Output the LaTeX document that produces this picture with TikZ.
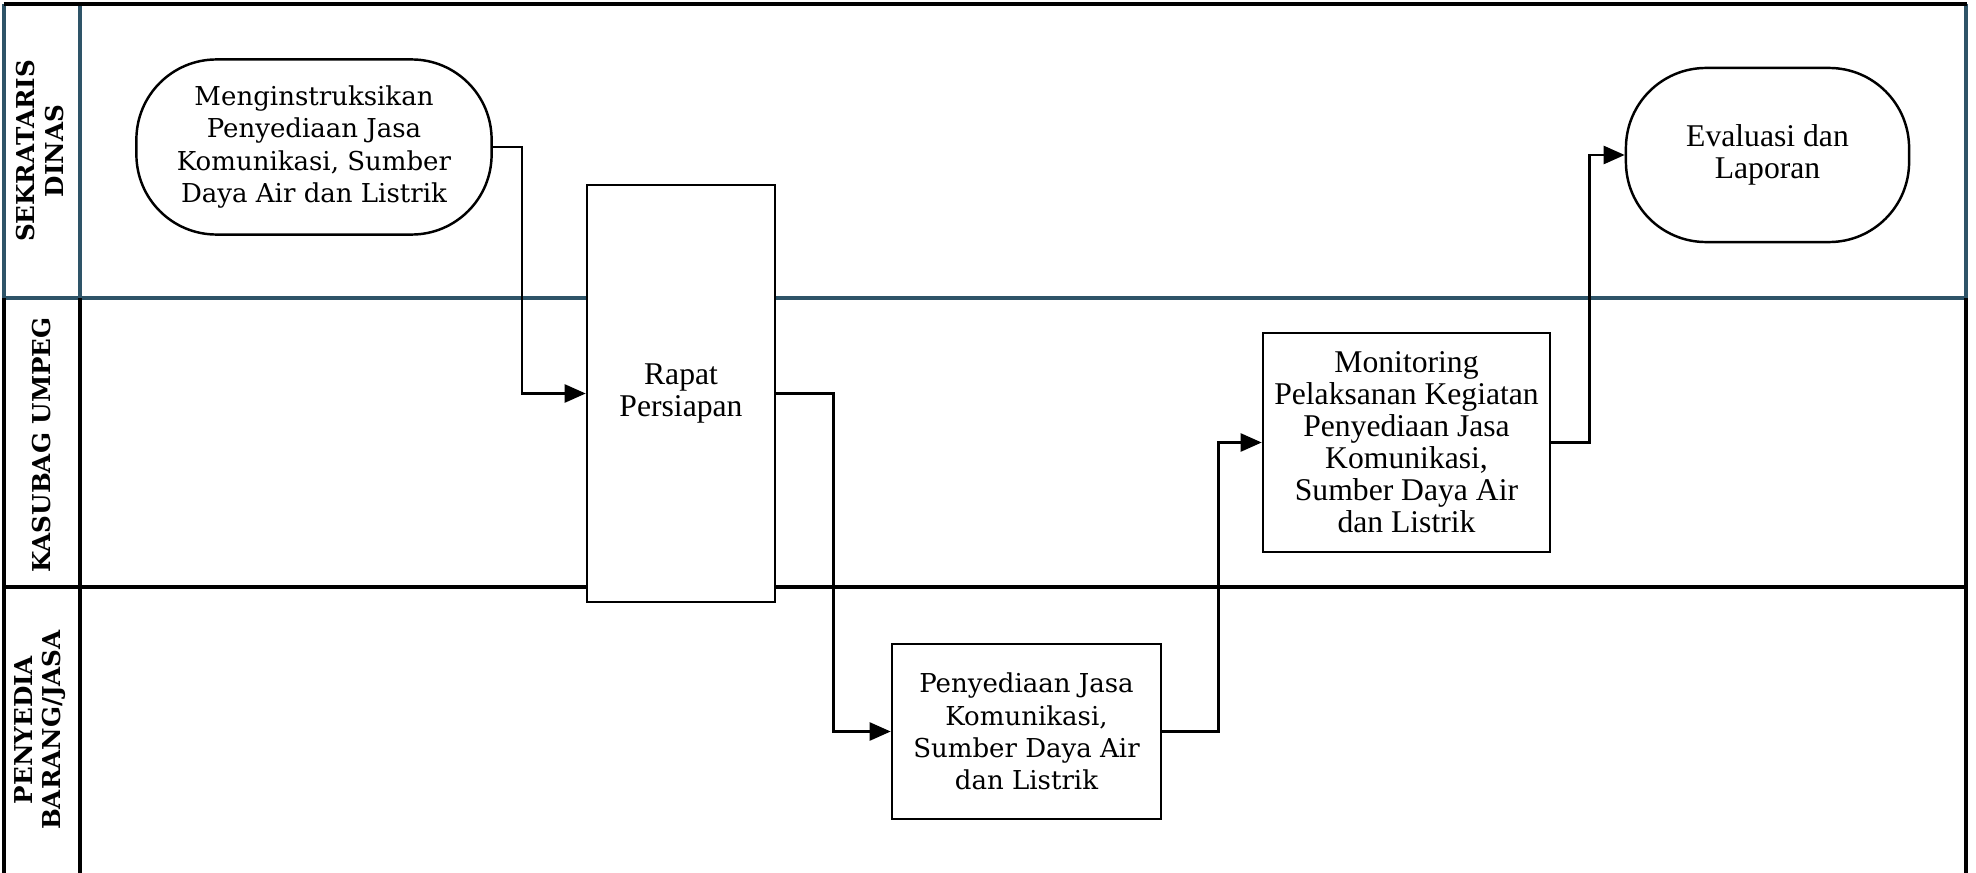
\documentclass[tikz,border=0pt]{standalone}
\usepackage{fontspec}
\setmainfont{DejaVu Serif}
\newfontfamily\fontsempit{Liberation Serif}
\usepackage{xcolor}
\usetikzlibrary{arrows.meta}

\definecolor{lanebiru}{HTML}{2E5468}

\tikzset{
  garis/.style={line width=1pt},
  proses/.style={draw, fill=white, line width=0.7pt, align=center, inner sep=1pt},
  terminal/.style={proses, rounded corners=0.8cm},
  lebar/.style={font=\fontsize{7.4}{9.2}\selectfont},
  sempit/.style={font=\fontsempit\fontsize{9}{9.1}\selectfont},
  judul/.style={rotate=90, align=center, font=\fontsize{7}{8}\selectfont\bfseries},
  alur/.style={line width=0.7pt, -{Triangle[length=0.21cm,width=0.18cm]}},
}

\begin{document}
\begin{tikzpicture}[x=0.01cm, y=-0.01cm]
\useasboundingbox (0,0) rectangle (1976,873);

% swimlanes
\draw[garis, lanebiru] (4,4) -- (4,298) (80,4) -- (80,298) (4,298) -- (1966,298) (1966,4) -- (1966,298);
\draw[garis] (3.5,4) -- (1966.5,4);
\draw[garis] (4,298) -- (4,873) (80,298) -- (80,873) (4,587) -- (1966,587) (1966,298) -- (1966,873);

\node[judul] (L1) at (40,151) {SEKRATARIS\\DINAS};
\node[judul] (L2) at (42,445) {KASUBAG UMPEG};
\node[judul] (L3) at (40,730) {PENYEDIA\\BARANG/JASA};

% langkah
\node[terminal, lebar, minimum width=3.55cm, minimum height=1.75cm] (A) at (314,147)
  {Menginstruksikan\\Penyediaan Jasa\\Komunikasi, Sumber\\Daya Air dan Listrik};
\node[proses, sempit, minimum width=1.88cm, minimum height=4.17cm] (B) at (681,393.5)
  {Rapat\\Persiapan};
\node[proses, lebar, minimum width=2.69cm, minimum height=1.75cm] (C) at (1026.5,731.5)
  {Penyediaan Jasa\\Komunikasi,\\Sumber Daya Air\\dan Listrik};
\node[proses, sempit, minimum width=2.87cm, minimum height=2.19cm] (D) at (1406.5,442.5)
  {Monitoring\\Pelaksanan Kegiatan\\Penyediaan Jasa\\Komunikasi,\\Sumber Daya Air\\dan Listrik};
\node[terminal, sempit, minimum width=2.83cm, minimum height=1.74cm] (E) at (1767.5,155)
  {Evaluasi dan\\Laporan};

% alur
\draw[alur] (A.east) -- ++(29,0) |- (B.west);
\draw[alur] (B.east) -- ++(57,0) |- (C.west);
\draw[alur] (C.east) -- ++(56,0) |- (D.west);
\draw[alur] (D.east) -- ++(38,0) |- (E.west);

\end{tikzpicture}
\end{document}
